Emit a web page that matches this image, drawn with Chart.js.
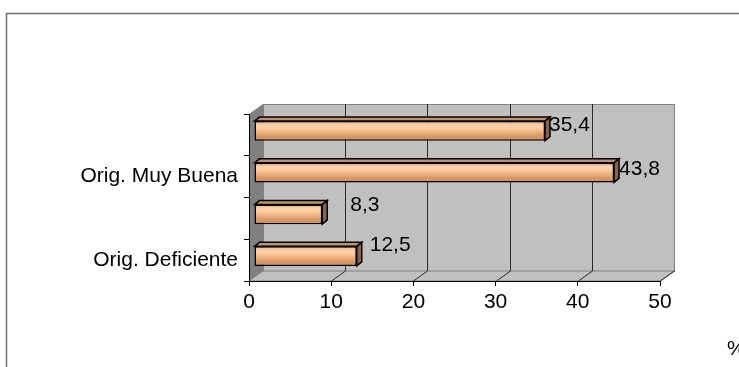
<!DOCTYPE html>
<html>
<head>
<meta charset="utf-8">
<script src="https://cdn.jsdelivr.net/npm/chart.js@4/dist/chart.umd.min.js"></script>
<style>
  html, body { margin: 0; padding: 0; background: #fff; }
  #wrap { width: 739px; height: 367px; }
</style>
</head>
<body>
<div id="wrap"><canvas id="MyChart" width="739" height="367"></canvas></div>
<script>
// categories (only every other label is shown in the original)
const categories = ['', 'Orig. Muy Buena', '', 'Orig. Deficiente'];
const values = [35.4, 43.8, 8.3, 12.5];
const xTicks = [0, 10, 20, 30, 40, 50];
const unitLabel = '%';

const FONT = '"Liberation Sans", Arial, sans-serif';
const FSIZE = 21;
const DX = 14, DY = -10;          // depth of the walls
const BAR_SHIFT = [5, -4];        // bars sit a bit inside the box
const BAR_DEPTH = [5, -4];
const BAR_PCT = 0.47;
// label nudges, like Excel put them
const labelDx = [4, 5, 28, 13];
const labelDy = [-9.5, -7.5, -13.5, -14.5];

function fmt(v) { return v.toFixed(1).replace('.', ','); }

function barFill(c) {
  const ys = c.chart.scales.y;
  if (!ys || !ys.height) return '#f8c89c';
  const h = ys.height / categories.length * BAR_PCT;
  const top = ys.getPixelForValue(c.dataIndex) - h / 2 + BAR_SHIFT[1];
  const g = c.chart.ctx.createLinearGradient(0, top, 0, top + h);
  g.addColorStop(0, '#d99a68');
  g.addColorStop(0.45, '#fcd3ad');
  g.addColorStop(0.6, '#fbc999');
  g.addColorStop(1, '#d89560');
  return g;
}

const box3d = {
  id: 'box3d',
  beforeDraw(chart) {
    const ctx = chart.ctx;
    const a = chart.chartArea;
    const xs = chart.scales.x;
    ctx.save();
    // outer frame
    ctx.strokeStyle = '#707070';
    ctx.lineWidth = 1.5;
    ctx.strokeRect(6.5, 13.5, 900, 500);

    // back wall
    ctx.fillStyle = '#c0c0c0';
    ctx.fillRect(a.left + DX, a.top + DY, a.right - a.left, a.bottom - a.top);
    ctx.strokeStyle = '#808080';
    ctx.lineWidth = 1;
    ctx.strokeRect(a.left + DX + 0.5, a.top + DY + 0.5, a.right - a.left, a.bottom - a.top);

    // left wall
    ctx.fillStyle = '#808080';
    ctx.beginPath();
    ctx.moveTo(a.left, a.top);
    ctx.lineTo(a.left + DX, a.top + DY);
    ctx.lineTo(a.left + DX, a.bottom + DY);
    ctx.lineTo(a.left, a.bottom);
    ctx.closePath();
    ctx.fill();

    // floor
    ctx.fillStyle = '#c0c0c0';
    ctx.beginPath();
    ctx.moveTo(a.left, a.bottom);
    ctx.lineTo(a.left + DX, a.bottom + DY);
    ctx.lineTo(a.right + DX, a.bottom + DY);
    ctx.lineTo(a.right, a.bottom);
    ctx.closePath();
    ctx.fill();
    ctx.strokeStyle = '#808080';
    ctx.stroke();

    // grid on back wall + floor diagonals
    ctx.strokeStyle = '#2a2a2a';
    ctx.lineWidth = 1;
    xTicks.forEach(v => {
      const px = Math.round(xs.getPixelForValue(v)) + 0.5;
      if (v > 0 && v < 50) {
        ctx.beginPath();
        ctx.moveTo(px + DX, a.top + DY);
        ctx.lineTo(px + DX, a.bottom + DY);
        ctx.stroke();
      }
      if (v > 0) {
        ctx.beginPath();
        ctx.moveTo(px, a.bottom);
        ctx.lineTo(px + DX, a.bottom + DY);
        ctx.stroke();
      }
    });
    ctx.restore();
  },
  beforeDatasetsDraw(chart) {
    chart.ctx.save();
    chart.ctx.translate(BAR_SHIFT[0], BAR_SHIFT[1]);
  },
  afterDatasetsDraw(chart) {
    const ctx = chart.ctx;
    const meta = chart.getDatasetMeta(0);
    const [dx, dy] = BAR_DEPTH;
    meta.data.forEach(el => {
      const l = el.base, r = el.x;
      const t = el.y - el.height / 2, b = el.y + el.height / 2;
      ctx.lineWidth = 1.5;
      ctx.strokeStyle = '#000';
      // top face
      ctx.fillStyle = '#c09068';
      ctx.beginPath();
      ctx.moveTo(l, t); ctx.lineTo(l + dx, t + dy); ctx.lineTo(r + dx, t + dy); ctx.lineTo(r, t);
      ctx.closePath(); ctx.fill(); ctx.stroke();
      // side face
      ctx.fillStyle = '#8a6446';
      ctx.beginPath();
      ctx.moveTo(r, t); ctx.lineTo(r + dx, t + dy); ctx.lineTo(r + dx, b + dy); ctx.lineTo(r, b);
      ctx.closePath(); ctx.fill(); ctx.stroke();
    });
    ctx.restore();

    // value labels
    ctx.save();
    ctx.fillStyle = '#000';
    ctx.font = FSIZE + 'px ' + FONT;
    ctx.textBaseline = 'middle';
    ctx.textAlign = 'left';
    meta.data.forEach((el, i) => {
      ctx.fillText(fmt(values[i]), el.x + BAR_SHIFT[0] + labelDx[i], el.y + labelDy[i]);
    });
    // unit
    ctx.fillText(unitLabel, 727, 349);
    ctx.restore();
  }
};

const data = {
  labels: categories,
  datasets: [{
    data: values,
    backgroundColor: barFill,
    borderColor: '#000',
    borderWidth: 1.5,
    borderSkipped: false,
    categoryPercentage: 1,
    barPercentage: BAR_PCT
  }]
};

const config = {
  type: 'bar',
  data: data,
  options: {
    indexAxis: 'y',
    responsive: false,
    animation: false,
    layout: { padding: { left: 0, top: 114, right: 79, bottom: 0 } },
    plugins: { legend: { display: false }, tooltip: { enabled: false } },
    scales: {
      x: {
        min: 0, max: 50,
        afterFit(s) { s.height = 86; },
        afterBuildTicks(s) { s.ticks = xTicks.map(v => ({ value: v })); },
        border: { display: true, color: '#000', width: 1 },
        grid: { drawOnChartArea: false, color: '#000', tickLength: 5 },
        ticks: { color: '#000', font: { family: FONT, size: FSIZE }, padding: 4, maxRotation: 0 }
      },
      y: {
        afterFit(s) { s.width = 249; },
        border: { display: true, color: '#000', width: 1 },
        grid: { drawOnChartArea: false, offset: true, color: '#000', tickLength: 5 },
        ticks: { color: '#000', font: { family: FONT, size: FSIZE }, padding: 6, autoSkip: false }
      }
    }
  },
  plugins: [box3d]
};

const myChart = new Chart(document.getElementById('MyChart'), config);
</script>
</body>
</html>
